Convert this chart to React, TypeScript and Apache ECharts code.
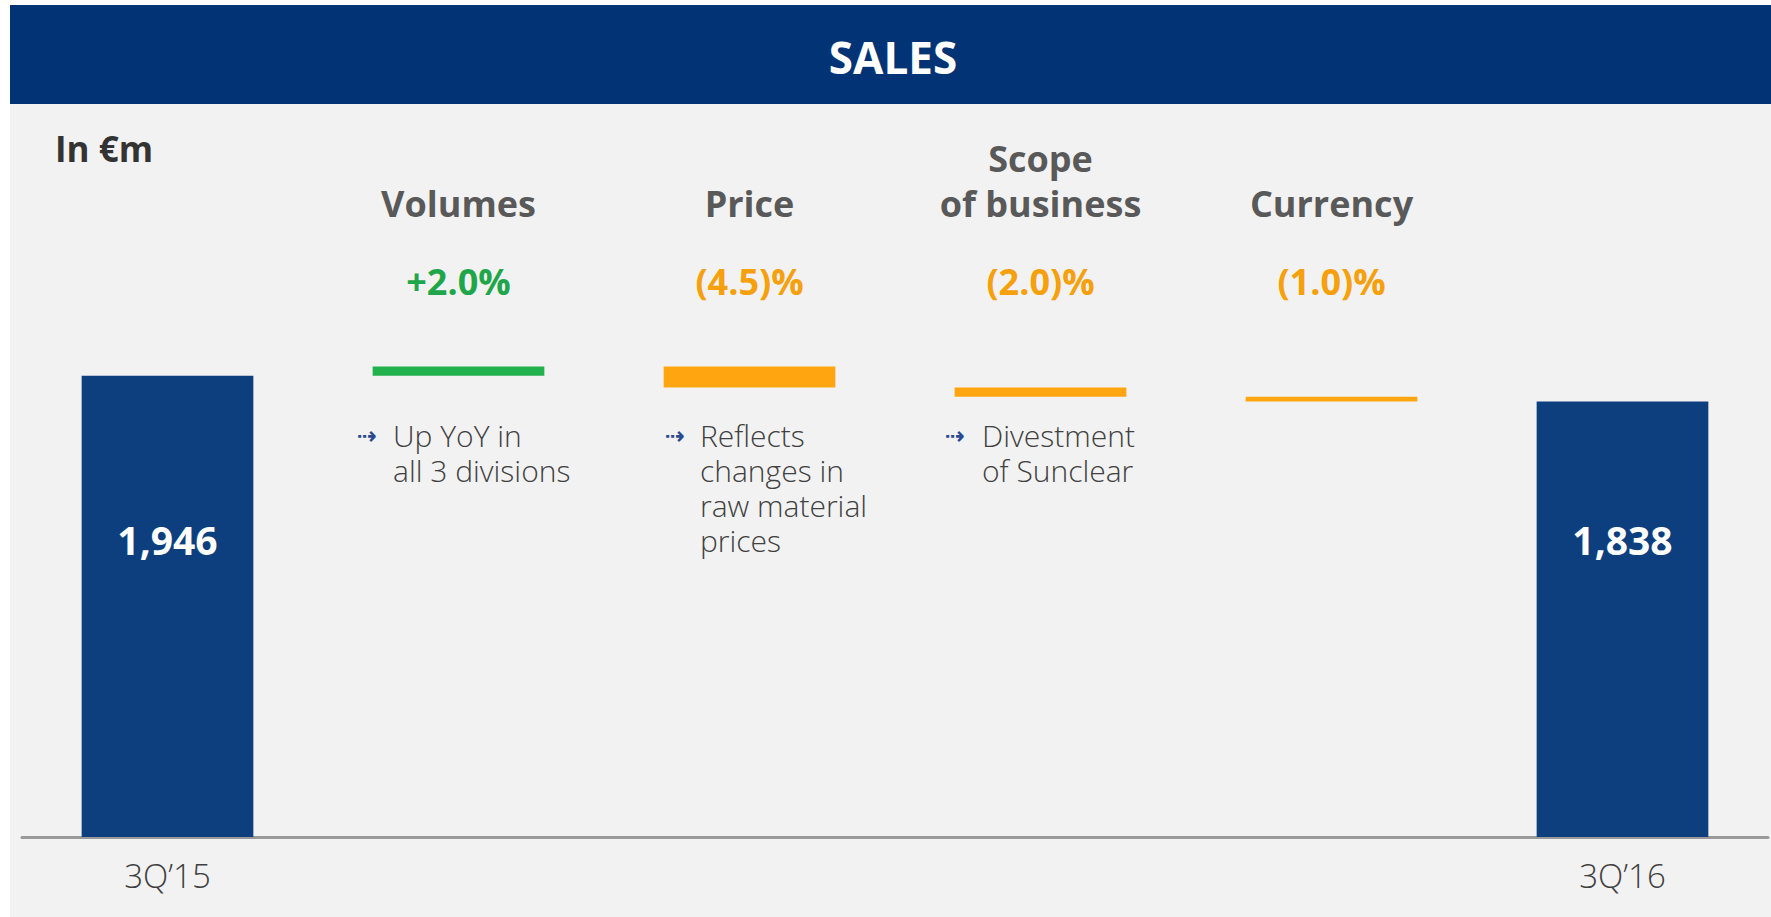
import { useEffect, useRef } from "react";
import * as echarts from "echarts";

// ---- data ----
const periodLabels = ["3Q’15", "", "", "", "", "3Q’16"];
const driverNames = ["", "Volumes", "Price", "Scope\nof business", "Currency", ""];
const driverChanges = ["", "+2.0%", "(4.5)%", "(2.0)%", "(1.0)%", ""];
const startSales = 1946;
const endSales = 1838;
const driverDeltas = [39, -88, -39, -20];
const volumesNote = ["Up YoY in", "all 3 divisions"];
const priceNote = ["Reflects", "changes in", "raw material", "prices"];
const scopeNote = ["Divestment", "of Sunclear"];
const titleText = "SALES";
const unitText = "In €m";

export default function App() {
  const ref = useRef<HTMLDivElement>(null);

  useEffect(() => {
    if (!ref.current) return;
    const chart = echarts.init(ref.current, null, { renderer: "svg" });
    const FONT = "'Open Sans', 'DejaVu Sans', sans-serif";
    const NAVY = "#0d3f7f";
    const GREEN = "#22b14c";
    const ORANGE = "#ffa50f";

    const base: any[] = [0];
    const visible: any[] = [];
    let running = startSales;
    visible.push({ value: startSales, itemStyle: { color: NAVY }, label: { show: true } });
    driverDeltas.forEach((d) => {
      const next = running + d;
      base.push(Math.min(running, next));
      visible.push({ value: Math.abs(d), itemStyle: { color: d >= 0 ? GREEN : ORANGE }, label: { show: false } });
      running = next;
    });
    base.push(0);
    visible.push({ value: endSales, itemStyle: { color: NAVY }, label: { show: true } });

    const noteStyle = (lines: string[], x: number) => ({
      type: "text",
      z: 10,
      style: {
        text: lines.join("\n"),
        x,
        y: 418,
        fontFamily: FONT,
        fontSize: 30,
        fontWeight: 300,
        lineHeight: 35,
        fill: "#404040",
        verticalAlign: "top",
        align: "left",
      },
    });
    const bullet = (x: number) => ({
      type: "text",
      z: 10,
      style: {
        text: "⇢",
        x,
        y: 436,
        fontFamily: "'DejaVu Sans', sans-serif",
        fontSize: 24,
        fontWeight: "bold",
        fill: "#2a4a8f",
        align: "center",
        verticalAlign: "middle",
      },
    });

    const option: any = {
      animation: false,
      backgroundColor: "#f2f2f2",
      grid: { left: 22, right: 3, top: 363, bottom: 80, containLabel: false },
      xAxis: [
        {
          type: "category",
          data: periodLabels,
          position: "bottom",
          axisLine: { show: true, lineStyle: { color: "#9a9a9a", width: 3 } },
          axisTick: { show: false },
          axisLabel: {
            interval: 0,
            margin: 18,
            fontFamily: FONT,
            fontSize: 33,
            fontWeight: 300,
            lineHeight: 40,
            color: "#404040",
          },
        },
        {
          type: "category",
          data: driverNames,
          position: "top",
          axisLine: { show: false },
          axisTick: { show: false },
          axisLabel: {
            interval: 0,
            margin: 137,
            fontFamily: FONT,
            fontSize: 36,
            fontWeight: "bold",
            lineHeight: 45,
            color: "#595959",
          },
        },
        {
          type: "category",
          data: driverChanges,
          position: "top",
          axisLine: { show: false },
          axisTick: { show: false },
          axisLabel: {
            interval: 0,
            margin: 60,
            lineHeight: 44,
            formatter: (v: string, i: number) => {
              if (!v) return "";
              return driverDeltas[i - 1] >= 0 ? `{up|${v}}` : `{down|${v}}`;
            },
            rich: {
              up: { fontFamily: FONT, fontSize: 36, fontWeight: "bold", color: "#1fa64a", lineHeight: 44 },
              down: { fontFamily: FONT, fontSize: 36, fontWeight: "bold", color: "#f5a00c", lineHeight: 44 },
            },
          },
        },
      ],
      yAxis: { type: "value", min: 0, max: 2000, show: false, splitLine: { show: false } },
      series: [
        {
          name: "base",
          type: "bar",
          stack: "w",
          xAxisIndex: 0,
          barCategoryGap: "41%",
          itemStyle: { color: "transparent" },
          emphasis: { disabled: true },
          data: base,
          silent: true,
        },
        {
          name: "Sales",
          type: "bar",
          stack: "w",
          xAxisIndex: 0,
          barCategoryGap: "41%",
          data: visible,
          label: {
            position: "insideBottom",
            distance: 278,
            fontFamily: FONT,
            fontSize: 39,
            fontWeight: "bold",
            color: "#ffffff",
            lineHeight: 40,
            formatter: (p: any) => Number(p.value).toLocaleString("en-US"),
          },
        },
      ],
      graphic: [
        { type: "rect", z: -5, shape: { x: 0, y: 0, width: 1771, height: 5 }, style: { fill: "#ffffff" } },
        { type: "rect", z: -5, shape: { x: 0, y: 0, width: 10, height: 917 }, style: { fill: "#ffffff" } },
        { type: "rect", z: -4, shape: { x: 10, y: 5, width: 1761, height: 99 }, style: { fill: "#023475" } },
        {
          type: "text",
          z: 10,
          style: {
            text: titleText,
            x: 893,
            y: 57,
            fontFamily: FONT,
            fontSize: 44,
            fontWeight: "bold",
            fill: "#ffffff",
            align: "center",
            verticalAlign: "middle",
          },
        },
        {
          type: "text",
          z: 10,
          style: {
            text: unitText,
            x: 55,
            y: 148,
            fontFamily: FONT,
            fontSize: 35,
            fontWeight: "bold",
            fill: "#333333",
            align: "left",
            verticalAlign: "middle",
          },
        },
        bullet(367),
        noteStyle(volumesNote, 393),
        bullet(675),
        noteStyle(priceNote, 700),
        bullet(955),
        noteStyle(scopeNote, 982),
      ],
    };
    chart.setOption(option);
    return () => chart.dispose();
  }, []);

  return (
    <div
      ref={ref}
      style={{ position: "fixed", left: 0, top: 0, width: 1771, height: 917 }}
    />
  );
}
